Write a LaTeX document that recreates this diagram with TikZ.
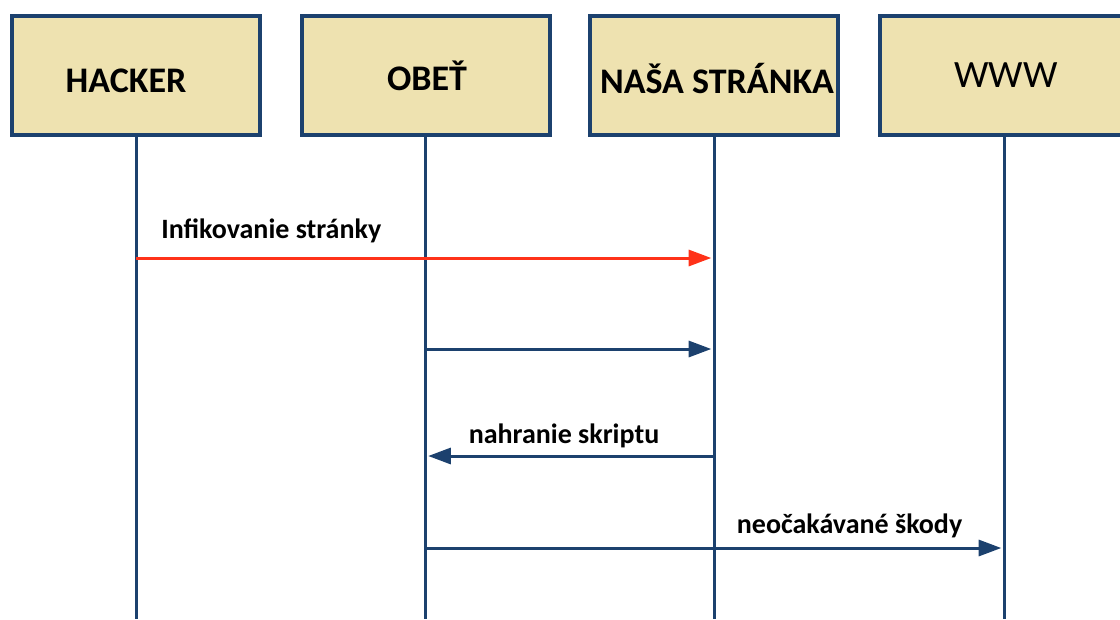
\documentclass[tikz,border=0pt]{standalone}
\usepackage{fontspec}
\setmainfont{Carlito}
\usetikzlibrary{arrows.meta,positioning}
\definecolor{boxfill}{HTML}{EEE2B0}
\definecolor{boxline}{HTML}{1C416E}
\definecolor{infred}{HTML}{FF3219}
\begin{document}
\begin{tikzpicture}[x=0.75pt,y=-0.75pt,
    actor/.style={draw=boxline,fill=boxfill,line width=3pt,minimum width=186pt,minimum height=89.25pt,inner sep=0pt},
    title/.style={font=\bfseries\fontsize{27}{30}\selectfont,inner sep=0pt},
    lifeline/.style={draw=boxline,line width=2.25pt},
    msg/.style={draw=boxline,line width=2.25pt,shorten >=2pt,-{Triangle[length=17pt,width=12pt]}},
    msglabel/.style={font=\bfseries\fontsize{21}{24}\selectfont,inner sep=0pt,anchor=base}]
    \useasboundingbox (0,0) rectangle (1120,619);
    \clip (0,0) rectangle (1120,619);
    \node[actor] (hacker) at (136,75.5) {};
    \node[actor] (obet) at (425.5,75.5) {};
    \node[actor] (stranka) at (714,75.5) {};
    \node[actor] (www) at (1004,75.5) {};
    \node[title] (hackertxt) at (126,81) {HACKER};
    \node[title] (obettxt) at (427,76) {OBEŤ};
    \node[title] (strankatxt) at (717,78) {NAŠA STRÁNKA};
    \node[title,font=\fontsize{29}{32}\selectfont] (wwwtxt) at (1006,75) {WWW};
    \coordinate (bottom) at (0,619);
    \coordinate (m1) at (0,258);
    \coordinate (m2) at (0,349);
    \coordinate (m3) at (0,456);
    \coordinate (m4) at (0,548);
    \foreach \who in {hacker,obet,stranka,www}
        \draw[lifeline] (\who.south) -- (\who.south |- bottom);
    \draw[msg,draw=infred] (hacker.south |- m1) -- node[msglabel,pos=0.234,yshift=15pt] {Infikovanie stránky} (stranka.south |- m1);
    \draw[msg] (obet.south |- m2) -- (stranka.south |- m2);
    \draw[msg] (stranka.south |- m3) -- node[msglabel,pos=0.52,yshift=9.75pt] {nahranie skriptu} (obet.south |- m3);
    \draw[msg] (obet.south |- m4) -- node[msglabel,pos=0.733,yshift=11.25pt] {neočakávané škody} (www.south |- m4);
\end{tikzpicture}
\end{document}
